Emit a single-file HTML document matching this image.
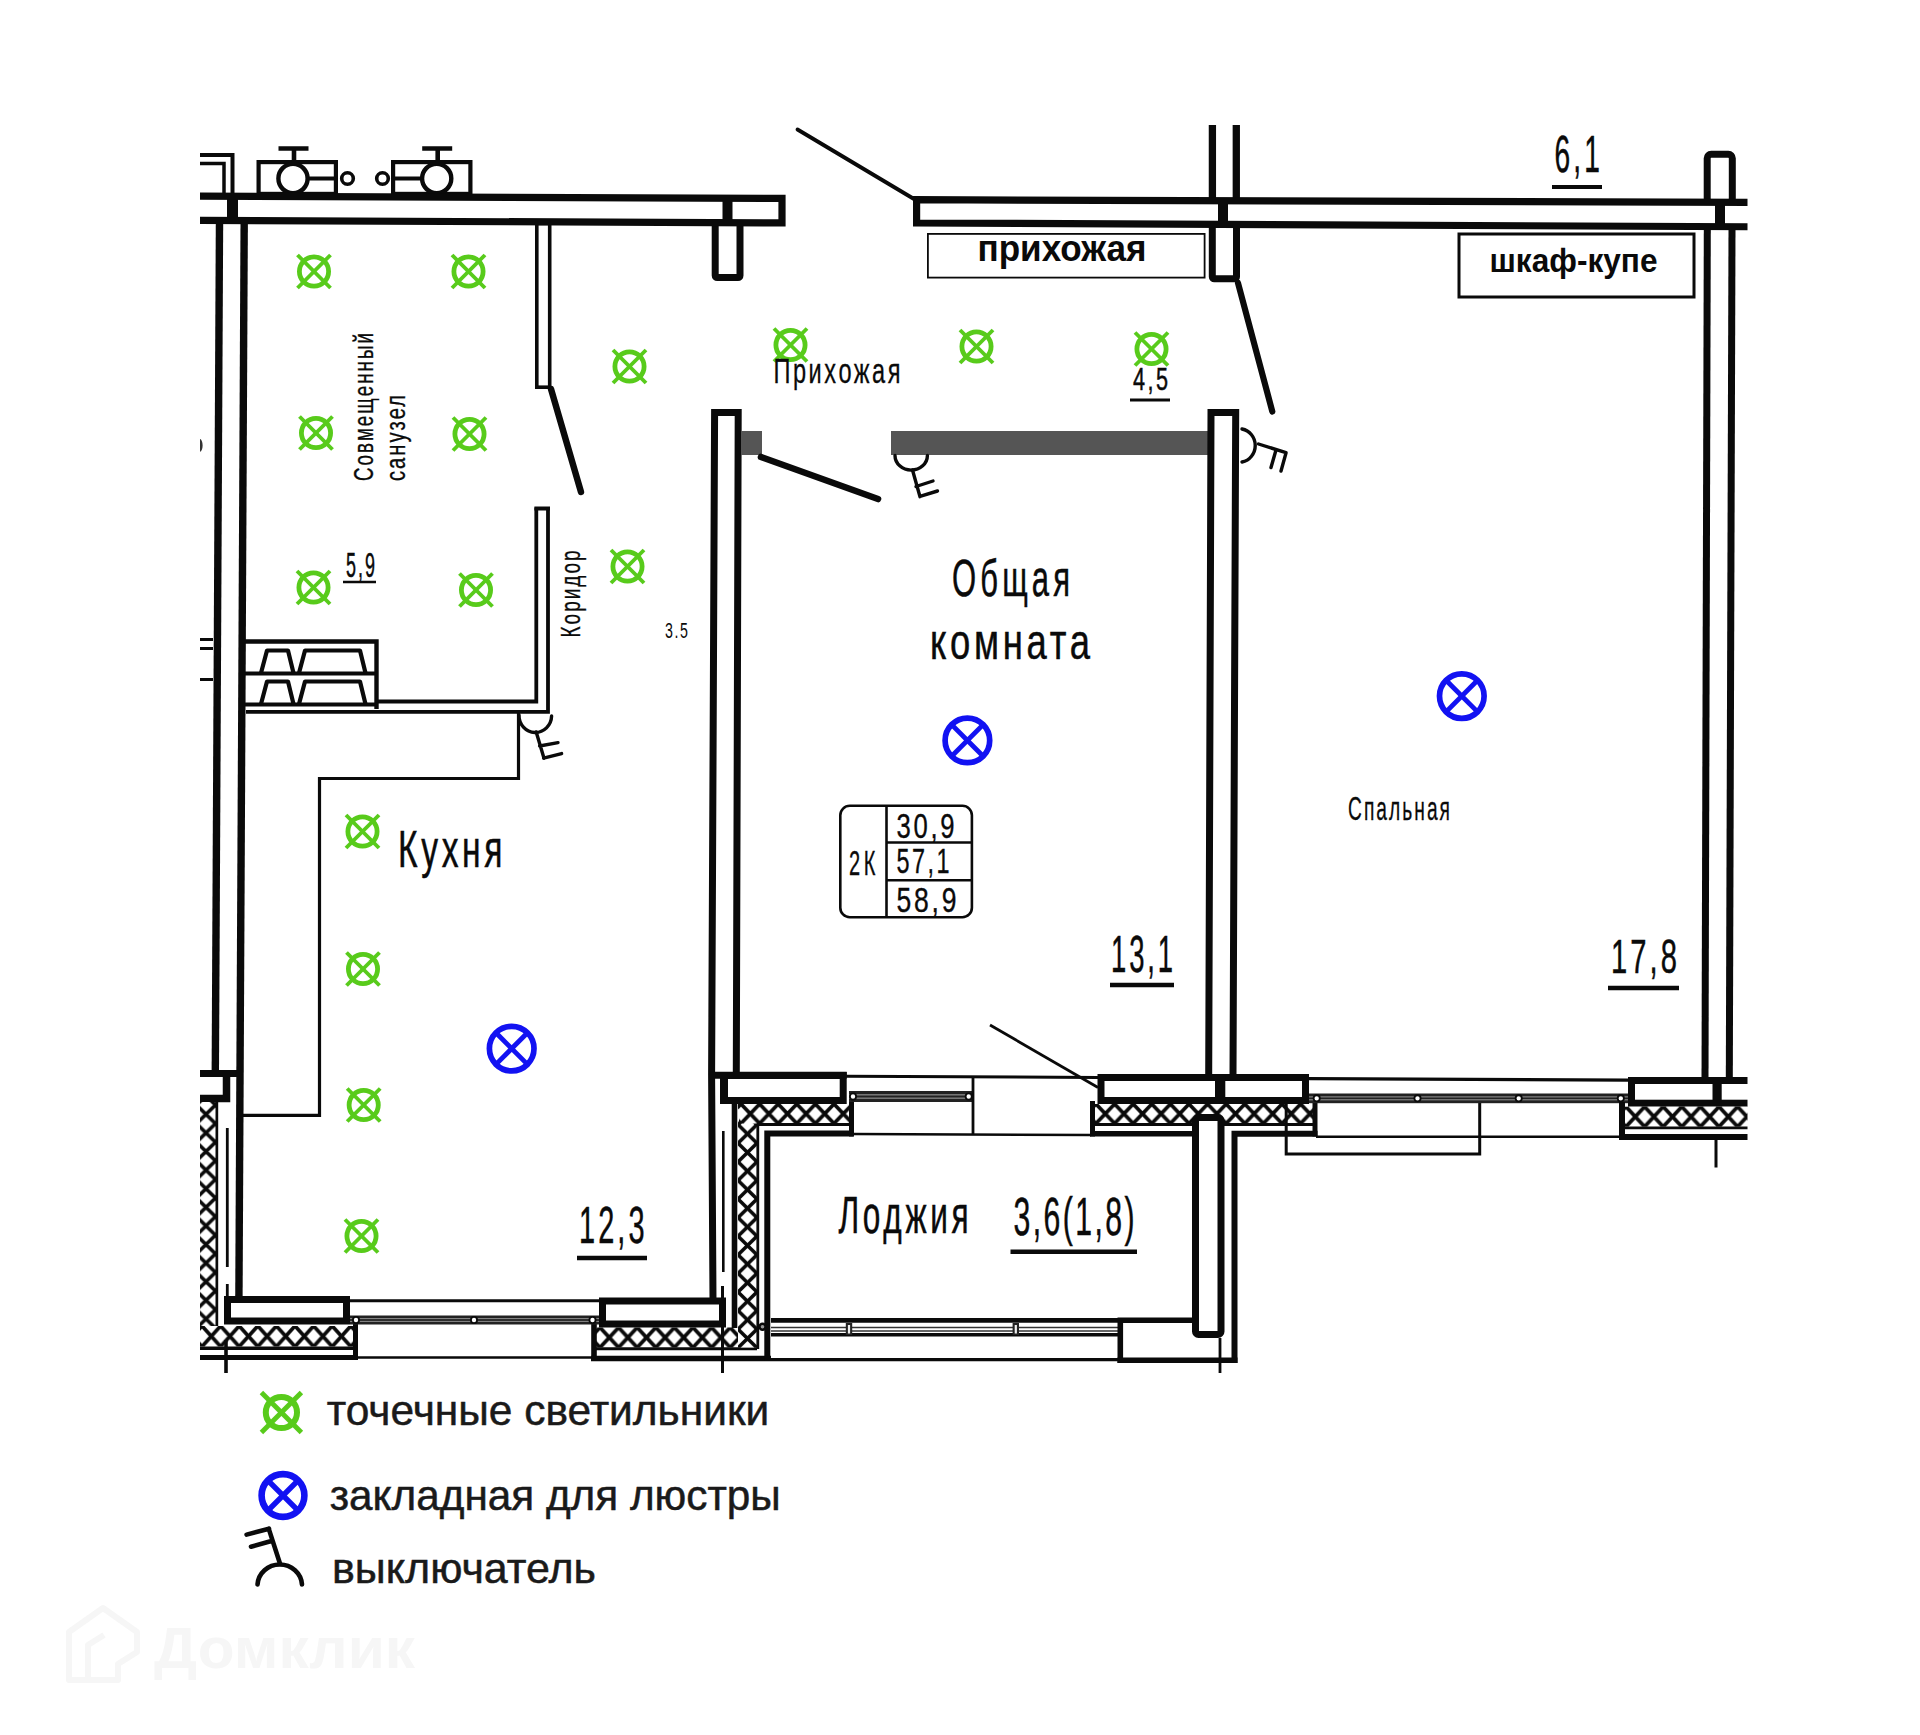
<!DOCTYPE html>
<html lang="ru"><head><meta charset="utf-8"><title>План квартиры</title>
<style>
html,body{margin:0;padding:0;background:#fff;}
body{width:1920px;height:1735px;overflow:hidden;}
svg{display:block;font-family:"Liberation Sans","DejaVu Sans",sans-serif;}
</style></head><body>
<svg width="1920" height="1735" viewBox="0 0 1920 1735">
<defs>
<clipPath id="crop"><rect x="200" y="125" width="1547.5" height="1248"/></clipPath>
<pattern id="hh" patternUnits="userSpaceOnUse" x="0" y="0" width="18.6" height="20">
<rect width="18.6" height="20" fill="#fff"/>
<path d="M0 0L18.6 20M18.6 0L0 20" stroke="#0a0a0a" stroke-width="3.7" fill="none" stroke-linecap="square"/>
</pattern>
<pattern id="hv" patternUnits="userSpaceOnUse" x="0" y="0" width="20" height="18.6">
<rect width="20" height="18.6" fill="#fff"/>
<path d="M0 0L20 18.6M0 18.6L20 0" stroke="#0a0a0a" stroke-width="3.7" fill="none" stroke-linecap="square"/>
</pattern>
</defs>
<rect width="1920" height="1735" fill="#fff"/>
<g clip-path="url(#crop)">
<path d="M190 155H232.5V196" fill="none" stroke="#0a0a0a" stroke-width="4" stroke-linecap="butt" stroke-linejoin="miter"/>
<path d="M190 163.5H224V196" fill="none" stroke="#0a0a0a" stroke-width="3.5" stroke-linecap="butt" stroke-linejoin="miter"/>
<rect x="258.60" y="162.10" width="77.30" height="31.80" fill="none" stroke="#0a0a0a" stroke-width="4.2" rx="0"/>
<line x1="309" y1="178.5" x2="337" y2="178.5" stroke="#0a0a0a" stroke-width="4.2" stroke-linecap="butt" />
<circle cx="293" cy="178.5" r="14.6" fill="#fff" stroke="#0a0a0a" stroke-width="4.4"/>
<line x1="294" y1="149" x2="294" y2="163" stroke="#0a0a0a" stroke-width="4.6" stroke-linecap="butt" />
<line x1="278.5" y1="148.5" x2="308.5" y2="148.5" stroke="#0a0a0a" stroke-width="4.4" stroke-linecap="butt" />
<circle cx="347.5" cy="178.5" r="5.8" fill="#fff" stroke="#0a0a0a" stroke-width="3.6"/>
<rect x="393.10" y="162.10" width="77.30" height="31.80" fill="none" stroke="#0a0a0a" stroke-width="4.2" rx="0"/>
<line x1="392" y1="178.5" x2="421" y2="178.5" stroke="#0a0a0a" stroke-width="4.2" stroke-linecap="butt" />
<circle cx="436.7" cy="178.5" r="14.6" fill="#fff" stroke="#0a0a0a" stroke-width="4.4"/>
<line x1="437.7" y1="149" x2="437.7" y2="163" stroke="#0a0a0a" stroke-width="4.6" stroke-linecap="butt" />
<line x1="422.2" y1="148.5" x2="452.2" y2="148.5" stroke="#0a0a0a" stroke-width="4.4" stroke-linecap="butt" />
<circle cx="382.5" cy="178.5" r="5.8" fill="#fff" stroke="#0a0a0a" stroke-width="3.6"/>
<rect x="715.20" y="218.50" width="24.80" height="59.00" fill="#fff" stroke="#0a0a0a" stroke-width="7.0" rx="2"/>
<path d="M180 196.1L782 198.4V222.9L180 220.3" fill="#fff" stroke="#0a0a0a" stroke-width="7.2" stroke-linecap="butt" stroke-linejoin="miter"/>
<rect x="722.5" y="196" width="10.00" height="28.00" fill="#0a0a0a"/>
<rect x="227" y="195" width="11.00" height="29.00" fill="#0a0a0a"/>
<path d="M219.5 222L215.3 1073" fill="none" stroke="#0a0a0a" stroke-width="7.4" stroke-linecap="butt" stroke-linejoin="miter"/>
<path d="M244.2 222L238.9 1300" fill="none" stroke="#0a0a0a" stroke-width="7.4" stroke-linecap="butt" stroke-linejoin="miter"/>
<rect x="536.80" y="223.80" width="12.90" height="163.40" fill="#fff" stroke="#0a0a0a" stroke-width="3.6" rx="0"/>
<line x1="551" y1="389" x2="581" y2="492" stroke="#0a0a0a" stroke-width="6.4" stroke-linecap="round" />
<path d="M536.3 507.5V701.5H377 M548 507.5V711.8H246" fill="none" stroke="#0a0a0a" stroke-width="3.8" stroke-linecap="butt" stroke-linejoin="miter"/>
<line x1="534.4" y1="508.5" x2="550" y2="508.5" stroke="#0a0a0a" stroke-width="4" stroke-linecap="butt" />
<path d="M244 641.5H376.5V709" fill="none" stroke="#0a0a0a" stroke-width="4.4" stroke-linecap="butt" stroke-linejoin="miter"/>
<line x1="244" y1="673.5" x2="376.5" y2="673.5" stroke="#0a0a0a" stroke-width="4.2" stroke-linecap="butt" />
<line x1="244" y1="704.5" x2="376.5" y2="704.5" stroke="#0a0a0a" stroke-width="4.2" stroke-linecap="butt" />
<path d="M261 673L267 650.5H288L293.5 673" fill="none" stroke="#0a0a0a" stroke-width="4.2" stroke-linecap="butt" stroke-linejoin="round"/>
<path d="M299 673L305 650.5H360L365.5 673" fill="none" stroke="#0a0a0a" stroke-width="4.2" stroke-linecap="butt" stroke-linejoin="round"/>
<path d="M261 704L267 681.5H288L293.5 704" fill="none" stroke="#0a0a0a" stroke-width="4.2" stroke-linecap="butt" stroke-linejoin="round"/>
<path d="M299 704L305 681.5H360L365.5 704" fill="none" stroke="#0a0a0a" stroke-width="4.2" stroke-linecap="butt" stroke-linejoin="round"/>
<line x1="200" y1="639.5" x2="213" y2="639.5" stroke="#0a0a0a" stroke-width="3" stroke-linecap="butt" />
<line x1="200" y1="648.5" x2="213" y2="648.5" stroke="#0a0a0a" stroke-width="3" stroke-linecap="butt" />
<line x1="200" y1="679.5" x2="213" y2="679.5" stroke="#0a0a0a" stroke-width="3" stroke-linecap="butt" />
<ellipse cx="200" cy="445.4" rx="2.6" ry="6.3" fill="#333"/>
<path d="M518.5 712V778.5H319.5V1115.3H243" fill="none" stroke="#0a0a0a" stroke-width="3.2" stroke-linecap="butt" stroke-linejoin="miter"/>
<path d="M713 1300L711.6 1075 L714.6 412.6H738.2L736.3 1073" fill="none" stroke="#0a0a0a" stroke-width="7.0" stroke-linecap="butt" stroke-linejoin="miter"/>
<rect x="741" y="431" width="21.00" height="24.00" fill="#555"/>
<rect x="891" y="431" width="319.00" height="24.00" fill="#555"/>
<line x1="761" y1="457" x2="878" y2="499" stroke="#0a0a0a" stroke-width="6.6" stroke-linecap="round" />
<path d="M1208.7 1076L1211 412.5H1235.7L1233 1076" fill="none" stroke="#0a0a0a" stroke-width="7.0" stroke-linecap="butt" stroke-linejoin="miter"/>
<line x1="1212.4" y1="120" x2="1212.4" y2="200" stroke="#0a0a0a" stroke-width="7.3" stroke-linecap="butt" />
<line x1="1236.3" y1="120" x2="1236.3" y2="200" stroke="#0a0a0a" stroke-width="7.3" stroke-linecap="butt" />
<rect x="1212.30" y="218.50" width="24.20" height="60.30" fill="#fff" stroke="#0a0a0a" stroke-width="7.0" rx="2"/>
<rect x="1707.20" y="154.30" width="25.10" height="48.20" fill="#fff" stroke="#0a0a0a" stroke-width="7.0" rx="4"/>
<path d="M1760 202.5L916.6 199.7V223L1760 226.8" fill="#fff" stroke="#0a0a0a" stroke-width="7.2" stroke-linecap="butt" stroke-linejoin="miter"/>
<rect x="1218" y="198" width="10.00" height="27.00" fill="#0a0a0a"/>
<rect x="1715" y="200" width="10.00" height="28.00" fill="#0a0a0a"/>
<line x1="1238" y1="283" x2="1272.3" y2="411.5" stroke="#0a0a0a" stroke-width="6.2" stroke-linecap="round" />
<line x1="797.5" y1="129.5" x2="914" y2="199" stroke="#0a0a0a" stroke-width="3.8" stroke-linecap="round" />
<path d="M1707.3 228L1705 1080" fill="none" stroke="#0a0a0a" stroke-width="7.0" stroke-linecap="butt" stroke-linejoin="miter"/>
<path d="M1732 228L1729.3 1080" fill="none" stroke="#0a0a0a" stroke-width="7.0" stroke-linecap="butt" stroke-linejoin="miter"/>
<rect x="927.90" y="233.90" width="276.70" height="43.70" fill="#fff" stroke="#0a0a0a" stroke-width="1.8" rx="0"/>
<rect x="1459.00" y="234.00" width="235.00" height="63.00" fill="#fff" stroke="#0a0a0a" stroke-width="3" rx="0"/>
<rect x="200" y="1070" width="41.00" height="7.00" fill="#0a0a0a"/>
<path d="M226.5 1076V1098.5H200" fill="none" stroke="#0a0a0a" stroke-width="7.5" stroke-linecap="butt" stroke-linejoin="miter"/>
<line x1="214.7" y1="1100" x2="214.7" y2="1326" stroke="#0a0a0a" stroke-width="7" stroke-linecap="butt" />
<g transform="translate(196.5,1105) scale(0.9500,1)"><rect x="0" y="-3" width="20" height="224" fill="url(#hv)"/></g>
<line x1="227.3" y1="1128" x2="227.3" y2="1267" stroke="#0a0a0a" stroke-width="2.8" stroke-linecap="butt" />
<line x1="227.3" y1="1284" x2="227.3" y2="1300" stroke="#0a0a0a" stroke-width="2.8" stroke-linecap="butt" />
<g transform="translate(202,1326) scale(1,1.0250)"><rect x="-2" y="0" width="155" height="20" fill="url(#hh)"/></g>
<g transform="translate(600,1327.5) scale(1,1.0000)"><rect x="-4" y="0" width="144" height="20" fill="url(#hh)"/></g>
<rect x="227.50" y="1299.50" width="119.00" height="21.50" fill="#fff" stroke="#0a0a0a" stroke-width="7.0" rx="0"/>
<rect x="602.50" y="1301.00" width="120.00" height="23.00" fill="#fff" stroke="#0a0a0a" stroke-width="7.0" rx="0"/>
<line x1="200" y1="1348.2" x2="357" y2="1348.2" stroke="#0a0a0a" stroke-width="3.4" stroke-linecap="butt" />
<line x1="355.5" y1="1322" x2="355.5" y2="1360" stroke="#0a0a0a" stroke-width="5" stroke-linecap="butt" />
<line x1="593" y1="1348.8" x2="757" y2="1348.8" stroke="#0a0a0a" stroke-width="3" stroke-linecap="butt" />
<line x1="594" y1="1324" x2="594" y2="1361" stroke="#0a0a0a" stroke-width="5.6" stroke-linecap="butt" />
<line x1="200" y1="1357.5" x2="358" y2="1357.5" stroke="#0a0a0a" stroke-width="5" stroke-linecap="butt" />
<line x1="357" y1="1357.5" x2="592" y2="1357.5" stroke="#0a0a0a" stroke-width="2.6" stroke-linecap="butt" />
<line x1="591" y1="1358.5" x2="771" y2="1358.5" stroke="#0a0a0a" stroke-width="5.4" stroke-linecap="butt" />
<line x1="350" y1="1300.7" x2="599" y2="1300.7" stroke="#0a0a0a" stroke-width="3" stroke-linecap="butt" />
<rect x="350" y="1315.5" width="249.00" height="9.00" fill="#222"/>
<rect x="350" y="1318.2" width="249.00" height="0.90" fill="#9a9a9a"/>
<rect x="350" y="1320.9" width="249.00" height="0.90" fill="#9a9a9a"/>
<circle cx="356" cy="1320.0" r="3.1" fill="#fff" stroke="#0a0a0a" stroke-width="1.8"/>
<circle cx="474" cy="1320.0" r="3.1" fill="#fff" stroke="#0a0a0a" stroke-width="1.8"/>
<circle cx="592.5" cy="1320.0" r="3.1" fill="#fff" stroke="#0a0a0a" stroke-width="1.8"/>
<line x1="226" y1="1340" x2="226" y2="1373" stroke="#0a0a0a" stroke-width="3.6" stroke-linecap="butt" />
<line x1="722.5" y1="1286" x2="722.5" y2="1373" stroke="#0a0a0a" stroke-width="3" stroke-linecap="butt" />
<g transform="translate(738,1106) scale(0.9500,1)"><rect x="0" y="-2" width="20" height="243.5" fill="url(#hv)"/></g>
<line x1="734.5" y1="1100" x2="734.5" y2="1328" stroke="#0a0a0a" stroke-width="5.6" stroke-linecap="butt" />
<line x1="757.8" y1="1124" x2="757.8" y2="1349" stroke="#0a0a0a" stroke-width="2.8" stroke-linecap="butt" />
<line x1="723.3" y1="1131" x2="723.3" y2="1272" stroke="#0a0a0a" stroke-width="2.6" stroke-linecap="butt" />
<line x1="713" y1="1075.3" x2="846.7" y2="1075.3" stroke="#0a0a0a" stroke-width="7.0" stroke-linecap="butt" />
<rect x="723.50" y="1075.50" width="119.70" height="25.00" fill="#fff" stroke="#0a0a0a" stroke-width="7.0" rx="0"/>
<rect x="720" y="1072" width="8.00" height="32.00" fill="#0a0a0a"/>
<g transform="translate(741,1104) scale(1,0.9750)"><rect x="-2" y="0" width="112" height="20" fill="url(#hh)"/></g>
<line x1="757" y1="1124.5" x2="851" y2="1124.5" stroke="#0a0a0a" stroke-width="3" stroke-linecap="butt" />
<path d="M853.5 1133.5H767.3V1361" fill="none" stroke="#0a0a0a" stroke-width="6" stroke-linecap="butt" stroke-linejoin="miter"/>
<line x1="851.5" y1="1100" x2="851.5" y2="1136.5" stroke="#0a0a0a" stroke-width="5" stroke-linecap="butt" />
<line x1="846" y1="1076.3" x2="1098" y2="1077.5" stroke="#0a0a0a" stroke-width="3" stroke-linecap="butt" />
<rect x="849" y="1091" width="124.00" height="11.00" fill="#222"/>
<rect x="849" y="1094.3" width="124.00" height="1.10" fill="#9a9a9a"/>
<rect x="849" y="1097.6" width="124.00" height="1.10" fill="#9a9a9a"/>
<circle cx="853" cy="1096.5" r="3.1" fill="#fff" stroke="#0a0a0a" stroke-width="1.8"/>
<circle cx="968.7" cy="1096.5" r="3.1" fill="#fff" stroke="#0a0a0a" stroke-width="1.8"/>
<line x1="973" y1="1076" x2="973" y2="1134" stroke="#0a0a0a" stroke-width="2.8" stroke-linecap="butt" />
<line x1="853" y1="1134" x2="1091" y2="1135" stroke="#0a0a0a" stroke-width="2.6" stroke-linecap="butt" />
<line x1="990" y1="1025" x2="1098" y2="1087.5" stroke="#0a0a0a" stroke-width="2.8" stroke-linecap="butt" />
<rect x="1101.00" y="1077.50" width="204.50" height="23.00" fill="#fff" stroke="#0a0a0a" stroke-width="7.0" rx="0"/>
<rect x="1215" y="1075" width="10.30" height="28.00" fill="#0a0a0a"/>
<g transform="translate(1096,1104) scale(1,0.9750)"><rect x="-2" y="0" width="219" height="20" fill="url(#hh)"/></g>
<line x1="1094" y1="1124.5" x2="1313" y2="1124.5" stroke="#0a0a0a" stroke-width="3" stroke-linecap="butt" />
<line x1="1090" y1="1133.8" x2="1196" y2="1133.8" stroke="#0a0a0a" stroke-width="5.6" stroke-linecap="butt" />
<line x1="1092.5" y1="1101" x2="1092.5" y2="1136.5" stroke="#0a0a0a" stroke-width="5" stroke-linecap="butt" />
<path d="M1317.5 1133.8H1234.5V1363" fill="none" stroke="#0a0a0a" stroke-width="6" stroke-linecap="butt" stroke-linejoin="miter"/>
<line x1="1315" y1="1101" x2="1315" y2="1136.5" stroke="#0a0a0a" stroke-width="5" stroke-linecap="butt" />
<rect x="1195.50" y="1117.50" width="25.50" height="217.00" fill="#fff" stroke="#0a0a0a" stroke-width="7.0" rx="3"/>
<line x1="771" y1="1320.3" x2="1120" y2="1320.3" stroke="#0a0a0a" stroke-width="4.8" stroke-linecap="butt" />
<line x1="771" y1="1327.4" x2="1119" y2="1327.4" stroke="#333" stroke-width="1.5" stroke-linecap="butt" />
<line x1="771" y1="1331" x2="1119" y2="1331" stroke="#333" stroke-width="1.5" stroke-linecap="butt" />
<line x1="771" y1="1334.8" x2="1119" y2="1334.8" stroke="#0a0a0a" stroke-width="3.4" stroke-linecap="butt" />
<rect x="845.8" y="1323" width="6.40" height="12.00" fill="#222"/>
<rect x="847.9" y="1325" width="2.20" height="8.50" fill="#eee"/>
<rect x="1012.5999999999999" y="1323" width="6.40" height="12.00" fill="#222"/>
<rect x="1014.6999999999999" y="1325" width="2.20" height="8.50" fill="#eee"/>
<circle cx="762.5" cy="1326.7" r="3" fill="#999" stroke="#0a0a0a" stroke-width="2.4"/>
<path d="M1192 1320.3H1120.3V1363" fill="none" stroke="#0a0a0a" stroke-width="5.6" stroke-linecap="butt" stroke-linejoin="miter"/>
<line x1="1117.5" y1="1360.3" x2="1237.5" y2="1360.3" stroke="#0a0a0a" stroke-width="5.6" stroke-linecap="butt" />
<line x1="771" y1="1359.6" x2="1118" y2="1359.6" stroke="#0a0a0a" stroke-width="3.2" stroke-linecap="butt" />
<line x1="1220" y1="1338" x2="1220" y2="1373" stroke="#0a0a0a" stroke-width="2.8" stroke-linecap="butt" />
<rect x="1286.20" y="1101.20" width="193.50" height="52.80" fill="none" stroke="#0a0a0a" stroke-width="3" rx="0"/>
<line x1="1309" y1="1078.7" x2="1628" y2="1080.2" stroke="#0a0a0a" stroke-width="3.2" stroke-linecap="butt" />
<rect x="1309" y="1093.5" width="319.00" height="9.70" fill="#222"/>
<rect x="1309" y="1096.41" width="319.00" height="0.97" fill="#9a9a9a"/>
<rect x="1309" y="1099.32" width="319.00" height="0.97" fill="#9a9a9a"/>
<circle cx="1316.7" cy="1098.35" r="3.1" fill="#fff" stroke="#0a0a0a" stroke-width="1.8"/>
<circle cx="1417.5" cy="1098.35" r="3.1" fill="#fff" stroke="#0a0a0a" stroke-width="1.8"/>
<circle cx="1518.7" cy="1098.35" r="3.1" fill="#fff" stroke="#0a0a0a" stroke-width="1.8"/>
<circle cx="1620.8" cy="1098.35" r="3.1" fill="#fff" stroke="#0a0a0a" stroke-width="1.8"/>
<line x1="1316" y1="1136.7" x2="1620" y2="1136.7" stroke="#0a0a0a" stroke-width="2.6" stroke-linecap="butt" />
<rect x="1631.50" y="1080.50" width="125.00" height="22.70" fill="#fff" stroke="#0a0a0a" stroke-width="7.0" rx="0"/>
<rect x="1712.5" y="1078" width="9.20" height="28.00" fill="#0a0a0a"/>
<g transform="translate(1626,1106.7) scale(1,1.0000)"><rect x="-3" y="0" width="137" height="20" fill="url(#hh)"/></g>
<line x1="1621" y1="1127.8" x2="1760" y2="1127.8" stroke="#0a0a0a" stroke-width="2.8" stroke-linecap="butt" />
<line x1="1619" y1="1137" x2="1760" y2="1137" stroke="#0a0a0a" stroke-width="6" stroke-linecap="butt" />
<line x1="1622" y1="1102" x2="1622" y2="1140" stroke="#0a0a0a" stroke-width="6" stroke-linecap="butt" />
<line x1="1716" y1="1140" x2="1716" y2="1167.5" stroke="#0a0a0a" stroke-width="3" stroke-linecap="butt" />
<g fill="none" stroke="#0a0a0a" stroke-width="3.4" stroke-linecap="round"><path d="M519 715A16.3 17 0 0 0 551.6 716"/><path d="M536.2 732L544 758.3M539.6 746L558 742.6M543.6 758.2L561.6 753.6"/></g>
<g fill="none" stroke="#0a0a0a" stroke-width="3.4" stroke-linecap="round"><path d="M895 455.5A16.2 14.6 0 0 0 927.4 455.5"/><path d="M912.5 470L920 496.7M916 486.5L933 481M920 496.3L937.5 491"/></g>
<g fill="none" stroke="#0a0a0a" stroke-width="3.4" stroke-linecap="round"><path d="M1242 429A16.3 16.8 0 0 1 1242 462"/><path d="M1258.5 444L1286 452.6M1276 450L1271 467.5M1286 453L1281 471"/></g>
<circle cx="314" cy="271.5" r="14.6" fill="none" stroke="#58cb1b" stroke-width="4.8"/>
<line x1="297.5" y1="255.0" x2="330.5" y2="288.0" stroke="#58cb1b" stroke-width="3.84" stroke-linecap="butt" />
<line x1="297.5" y1="288.0" x2="330.5" y2="255.0" stroke="#58cb1b" stroke-width="3.84" stroke-linecap="butt" />
<circle cx="468.5" cy="271.5" r="14.6" fill="none" stroke="#58cb1b" stroke-width="4.8"/>
<line x1="452.0" y1="255.0" x2="485.0" y2="288.0" stroke="#58cb1b" stroke-width="3.84" stroke-linecap="butt" />
<line x1="452.0" y1="288.0" x2="485.0" y2="255.0" stroke="#58cb1b" stroke-width="3.84" stroke-linecap="butt" />
<circle cx="316" cy="433" r="14.6" fill="none" stroke="#58cb1b" stroke-width="4.8"/>
<line x1="299.5" y1="416.5" x2="332.5" y2="449.5" stroke="#58cb1b" stroke-width="3.84" stroke-linecap="butt" />
<line x1="299.5" y1="449.5" x2="332.5" y2="416.5" stroke="#58cb1b" stroke-width="3.84" stroke-linecap="butt" />
<circle cx="469.5" cy="434" r="14.6" fill="none" stroke="#58cb1b" stroke-width="4.8"/>
<line x1="453.0" y1="417.5" x2="486.0" y2="450.5" stroke="#58cb1b" stroke-width="3.84" stroke-linecap="butt" />
<line x1="453.0" y1="450.5" x2="486.0" y2="417.5" stroke="#58cb1b" stroke-width="3.84" stroke-linecap="butt" />
<circle cx="313.5" cy="587.5" r="14.6" fill="none" stroke="#58cb1b" stroke-width="4.8"/>
<line x1="297.0" y1="571.0" x2="330.0" y2="604.0" stroke="#58cb1b" stroke-width="3.84" stroke-linecap="butt" />
<line x1="297.0" y1="604.0" x2="330.0" y2="571.0" stroke="#58cb1b" stroke-width="3.84" stroke-linecap="butt" />
<circle cx="476" cy="590" r="14.6" fill="none" stroke="#58cb1b" stroke-width="4.8"/>
<line x1="459.5" y1="573.5" x2="492.5" y2="606.5" stroke="#58cb1b" stroke-width="3.84" stroke-linecap="butt" />
<line x1="459.5" y1="606.5" x2="492.5" y2="573.5" stroke="#58cb1b" stroke-width="3.84" stroke-linecap="butt" />
<circle cx="629.5" cy="366.5" r="14.6" fill="none" stroke="#58cb1b" stroke-width="4.8"/>
<line x1="613.0" y1="350.0" x2="646.0" y2="383.0" stroke="#58cb1b" stroke-width="3.84" stroke-linecap="butt" />
<line x1="613.0" y1="383.0" x2="646.0" y2="350.0" stroke="#58cb1b" stroke-width="3.84" stroke-linecap="butt" />
<circle cx="627.5" cy="566.5" r="14.6" fill="none" stroke="#58cb1b" stroke-width="4.8"/>
<line x1="611.0" y1="550.0" x2="644.0" y2="583.0" stroke="#58cb1b" stroke-width="3.84" stroke-linecap="butt" />
<line x1="611.0" y1="583.0" x2="644.0" y2="550.0" stroke="#58cb1b" stroke-width="3.84" stroke-linecap="butt" />
<circle cx="790.5" cy="345" r="14.6" fill="none" stroke="#58cb1b" stroke-width="4.8"/>
<line x1="774.0" y1="328.5" x2="807.0" y2="361.5" stroke="#58cb1b" stroke-width="3.84" stroke-linecap="butt" />
<line x1="774.0" y1="361.5" x2="807.0" y2="328.5" stroke="#58cb1b" stroke-width="3.84" stroke-linecap="butt" />
<circle cx="976.5" cy="346.5" r="14.6" fill="none" stroke="#58cb1b" stroke-width="4.8"/>
<line x1="960.0" y1="330.0" x2="993.0" y2="363.0" stroke="#58cb1b" stroke-width="3.84" stroke-linecap="butt" />
<line x1="960.0" y1="363.0" x2="993.0" y2="330.0" stroke="#58cb1b" stroke-width="3.84" stroke-linecap="butt" />
<circle cx="1151.5" cy="349" r="14.6" fill="none" stroke="#58cb1b" stroke-width="4.8"/>
<line x1="1135.0" y1="332.5" x2="1168.0" y2="365.5" stroke="#58cb1b" stroke-width="3.84" stroke-linecap="butt" />
<line x1="1135.0" y1="365.5" x2="1168.0" y2="332.5" stroke="#58cb1b" stroke-width="3.84" stroke-linecap="butt" />
<circle cx="362.5" cy="831.5" r="14.6" fill="none" stroke="#58cb1b" stroke-width="4.8"/>
<line x1="346.0" y1="815.0" x2="379.0" y2="848.0" stroke="#58cb1b" stroke-width="3.84" stroke-linecap="butt" />
<line x1="346.0" y1="848.0" x2="379.0" y2="815.0" stroke="#58cb1b" stroke-width="3.84" stroke-linecap="butt" />
<circle cx="363" cy="969" r="14.6" fill="none" stroke="#58cb1b" stroke-width="4.8"/>
<line x1="346.5" y1="952.5" x2="379.5" y2="985.5" stroke="#58cb1b" stroke-width="3.84" stroke-linecap="butt" />
<line x1="346.5" y1="985.5" x2="379.5" y2="952.5" stroke="#58cb1b" stroke-width="3.84" stroke-linecap="butt" />
<circle cx="363.7" cy="1105" r="14.6" fill="none" stroke="#58cb1b" stroke-width="4.8"/>
<line x1="347.2" y1="1088.5" x2="380.2" y2="1121.5" stroke="#58cb1b" stroke-width="3.84" stroke-linecap="butt" />
<line x1="347.2" y1="1121.5" x2="380.2" y2="1088.5" stroke="#58cb1b" stroke-width="3.84" stroke-linecap="butt" />
<circle cx="361.5" cy="1236" r="14.6" fill="none" stroke="#58cb1b" stroke-width="4.8"/>
<line x1="345.0" y1="1219.5" x2="378.0" y2="1252.5" stroke="#58cb1b" stroke-width="3.84" stroke-linecap="butt" />
<line x1="345.0" y1="1252.5" x2="378.0" y2="1219.5" stroke="#58cb1b" stroke-width="3.84" stroke-linecap="butt" />
<circle cx="967.4" cy="740.4" r="22.3" fill="none" stroke="#1212f2" stroke-width="5.7"/>
<line x1="951.6338999999999" y1="724.6338999999999" x2="983.1661" y2="756.1661" stroke="#1212f2" stroke-width="4.845" stroke-linecap="butt" />
<line x1="951.6338999999999" y1="756.1661" x2="983.1661" y2="724.6338999999999" stroke="#1212f2" stroke-width="4.845" stroke-linecap="butt" />
<circle cx="1461.8" cy="696.1" r="22.3" fill="none" stroke="#1212f2" stroke-width="5.7"/>
<line x1="1446.0339" y1="680.3339" x2="1477.5661" y2="711.8661000000001" stroke="#1212f2" stroke-width="4.845" stroke-linecap="butt" />
<line x1="1446.0339" y1="711.8661000000001" x2="1477.5661" y2="680.3339" stroke="#1212f2" stroke-width="4.845" stroke-linecap="butt" />
<circle cx="511.7" cy="1048.6" r="22.3" fill="none" stroke="#1212f2" stroke-width="5.7"/>
<line x1="495.9339" y1="1032.8338999999999" x2="527.4661" y2="1064.3661" stroke="#1212f2" stroke-width="4.845" stroke-linecap="butt" />
<line x1="495.9339" y1="1064.3661" x2="527.4661" y2="1032.8338999999999" stroke="#1212f2" stroke-width="4.845" stroke-linecap="butt" />
</g>
<text x="1062" y="261" font-size="36.5" font-weight="bold" text-anchor="middle" fill="#0a0a0a" textLength="169" lengthAdjust="spacingAndGlyphs" >прихожая</text>
<text x="1573.5" y="271.7" font-size="32.5" font-weight="bold" text-anchor="middle" fill="#0a0a0a" textLength="168" lengthAdjust="spacingAndGlyphs" >шкаф-купе</text>
<text transform="translate(1554.5,172.3) scale(0.5466,1)" x="0" y="0" font-size="51.5" fill="#0a0a0a" textLength="83.24" lengthAdjust="spacing" stroke="#0a0a0a" stroke-width="0.5">6,1</text>
<line x1="1552" y1="187" x2="1602" y2="187" stroke="#0a0a0a" stroke-width="4.2" stroke-linecap="butt" />
<text transform="translate(1133,390) scale(0.6767,1)" x="0" y="0" font-size="32" fill="#0a0a0a" textLength="51.72" lengthAdjust="spacing" stroke="#0a0a0a" stroke-width="0.5">4,5</text>
<line x1="1130" y1="400" x2="1170" y2="400" stroke="#0a0a0a" stroke-width="3" stroke-linecap="butt" />
<text transform="translate(346,576.5) scale(0.5126,1)" x="0" y="0" font-size="35" fill="#0a0a0a" textLength="56.57" lengthAdjust="spacing" stroke="#0a0a0a" stroke-width="0.5">5,9</text>
<line x1="343" y1="582" x2="376" y2="582" stroke="#0a0a0a" stroke-width="2.4" stroke-linecap="butt" />
<text transform="translate(579,1243) scale(0.5567,1)" x="0" y="0" font-size="52" fill="#0a0a0a" textLength="117.67" lengthAdjust="spacing" stroke="#0a0a0a" stroke-width="0.5">12,3</text>
<line x1="577" y1="1258" x2="647" y2="1258" stroke="#0a0a0a" stroke-width="4.4" stroke-linecap="butt" />
<text transform="translate(1111,971.7) scale(0.5269,1)" x="0" y="0" font-size="52" fill="#0a0a0a" textLength="117.67" lengthAdjust="spacing" stroke="#0a0a0a" stroke-width="0.5">13,1</text>
<line x1="1110" y1="985" x2="1174" y2="985" stroke="#0a0a0a" stroke-width="4.4" stroke-linecap="butt" />
<text transform="translate(1611,972.8) scale(0.6014,1)" x="0" y="0" font-size="48.5" fill="#0a0a0a" textLength="109.75" lengthAdjust="spacing" stroke="#0a0a0a" stroke-width="0.5">17,8</text>
<line x1="1608" y1="988" x2="1679" y2="988" stroke="#0a0a0a" stroke-width="4.4" stroke-linecap="butt" />
<text transform="translate(1013.5,1235.3) scale(0.5698,1)" x="0" y="0" font-size="53" fill="#0a0a0a" textLength="212.37" lengthAdjust="spacing" stroke="#0a0a0a" stroke-width="0.5">3,6(1,8)</text>
<line x1="1010.5" y1="1251.8" x2="1137" y2="1251.8" stroke="#0a0a0a" stroke-width="4.4" stroke-linecap="butt" />
<text transform="translate(773.5,383.3) scale(0.6734,1)" x="0" y="0" font-size="35" fill="#0a0a0a" textLength="188.59" lengthAdjust="spacing" stroke="#0a0a0a" stroke-width="0.3">Прихожая</text>
<text transform="translate(952,596) scale(0.5966,1)" x="0" y="0" font-size="52" fill="#0a0a0a" textLength="197.78" lengthAdjust="spacing" stroke="#0a0a0a" stroke-width="0.5">Общая</text>
<text transform="translate(930,658.6) scale(0.7350,1)" x="0" y="0" font-size="49.5" fill="#0a0a0a" textLength="217.68" lengthAdjust="spacing" stroke="#0a0a0a" stroke-width="0.5">комната</text>
<text transform="translate(398,866.5) scale(0.6458,1)" x="0" y="0" font-size="52" fill="#0a0a0a" textLength="161.80" lengthAdjust="spacing" stroke="#0a0a0a" stroke-width="0.5">Кухня</text>
<text transform="translate(838.5,1233) scale(0.6187,1)" x="0" y="0" font-size="51" fill="#0a0a0a" textLength="210.11" lengthAdjust="spacing" stroke="#0a0a0a" stroke-width="0.5">Лоджия</text>
<text transform="translate(1348,819.6) scale(0.5901,1)" x="0" y="0" font-size="32.5" fill="#0a0a0a" textLength="172.85" lengthAdjust="spacing" stroke="#0a0a0a" stroke-width="0.3">Спальная</text>
<text transform="translate(665,638) scale(0.6468,1)" x="0" y="0" font-size="22" fill="#0a0a0a" textLength="35.56" lengthAdjust="spacing">3.5</text>
<text transform="translate(373,481) rotate(-90) scale(0.6941,1)" x="0" y="0" font-size="27" fill="#0a0a0a" textLength="213.24" lengthAdjust="spacing" stroke="#0a0a0a" stroke-width="0.3">Совмещенный</text>
<text transform="translate(405,481) rotate(-90) scale(0.7480,1)" x="0" y="0" font-size="27" fill="#0a0a0a" textLength="114.97" lengthAdjust="spacing" stroke="#0a0a0a" stroke-width="0.3">санузел</text>
<text transform="translate(579.5,637.5) rotate(-90) scale(0.7017,1)" x="0" y="0" font-size="27" fill="#0a0a0a" textLength="123.98" lengthAdjust="spacing" stroke="#0a0a0a" stroke-width="0.3">Коридор</text>
<rect x="840.30" y="805.80" width="131.60" height="111.40" fill="none" stroke="#0a0a0a" stroke-width="2.6" rx="9.5"/>
<line x1="886.5" y1="806" x2="886.5" y2="917" stroke="#0a0a0a" stroke-width="2.6" stroke-linecap="butt" />
<line x1="886" y1="842.5" x2="972" y2="842.5" stroke="#0a0a0a" stroke-width="2.6" stroke-linecap="butt" />
<line x1="886" y1="880.3" x2="972" y2="880.3" stroke="#0a0a0a" stroke-width="2.6" stroke-linecap="butt" />
<text transform="translate(849,875.3) scale(0.5800,1)" x="0" y="0" font-size="34.5" fill="#0a0a0a" textLength="45.69" lengthAdjust="spacing" stroke="#0a0a0a" stroke-width="0.35">2К</text>
<text transform="translate(896.5,837.8) scale(0.7430,1)" x="0" y="0" font-size="34.5" fill="#0a0a0a" textLength="78.07" lengthAdjust="spacing" stroke="#0a0a0a" stroke-width="0.35">30,9</text>
<text transform="translate(896.5,873.3) scale(0.6789,1)" x="0" y="0" font-size="34.5" fill="#0a0a0a" textLength="78.07" lengthAdjust="spacing" stroke="#0a0a0a" stroke-width="0.35">57,1</text>
<text transform="translate(896.5,912) scale(0.7686,1)" x="0" y="0" font-size="34.5" fill="#0a0a0a" textLength="78.07" lengthAdjust="spacing" stroke="#0a0a0a" stroke-width="0.35">58,9</text>
<circle cx="281.4" cy="1412.5" r="15.6" fill="none" stroke="#58cb1b" stroke-width="6"/>
<line x1="261.4" y1="1392.5" x2="301.4" y2="1432.5" stroke="#58cb1b" stroke-width="4.800000000000001" stroke-linecap="butt" />
<line x1="261.4" y1="1432.5" x2="301.4" y2="1392.5" stroke="#58cb1b" stroke-width="4.800000000000001" stroke-linecap="butt" />
<circle cx="283" cy="1495.5" r="21.4" fill="none" stroke="#1212f2" stroke-width="6.6"/>
<line x1="267.8702" y1="1480.3702" x2="298.1298" y2="1510.6298" stroke="#1212f2" stroke-width="5.609999999999999" stroke-linecap="butt" />
<line x1="267.8702" y1="1510.6298" x2="298.1298" y2="1480.3702" stroke="#1212f2" stroke-width="5.609999999999999" stroke-linecap="butt" />
<g fill="none" stroke="#0a0a0a" stroke-width="4.6" stroke-linecap="round"><path d="M257.5 1584.5A22.3 21.5 0 0 1 302 1584.5"/><path d="M279.8 1563L268.7 1528.6 M246.6 1534.6L269 1528.7 M251 1546.7L272.3 1540.7"/></g>
<text x="326.7" y="1425.3" font-size="42.8" font-weight="normal" text-anchor="start" fill="#1a1a1a" textLength="442.5" lengthAdjust="spacingAndGlyphs" stroke="#1a1a1a" stroke-width="0.5" >точечные светильники</text>
<text x="329.7" y="1509.6" font-size="42.8" font-weight="normal" text-anchor="start" fill="#1a1a1a" textLength="451" lengthAdjust="spacingAndGlyphs" stroke="#1a1a1a" stroke-width="0.5" >закладная для люстры</text>
<text x="332" y="1583.2" font-size="42.8" font-weight="normal" text-anchor="start" fill="#1a1a1a" textLength="264" lengthAdjust="spacingAndGlyphs" stroke="#1a1a1a" stroke-width="0.5" >выключатель</text>
<g fill="none" stroke="#f6f6f6" stroke-width="6" stroke-linejoin="round"><path d="M69 1680V1632L103 1608L137 1632V1652L118 1664V1680Z"/><path d="M88 1680V1645L104 1635"/></g>
<text x="154" y="1667.5" font-size="56.5" font-weight="bold" text-anchor="start" fill="#f6f6f6" textLength="261" lengthAdjust="spacingAndGlyphs" >Домклик</text>
</svg></body></html>
